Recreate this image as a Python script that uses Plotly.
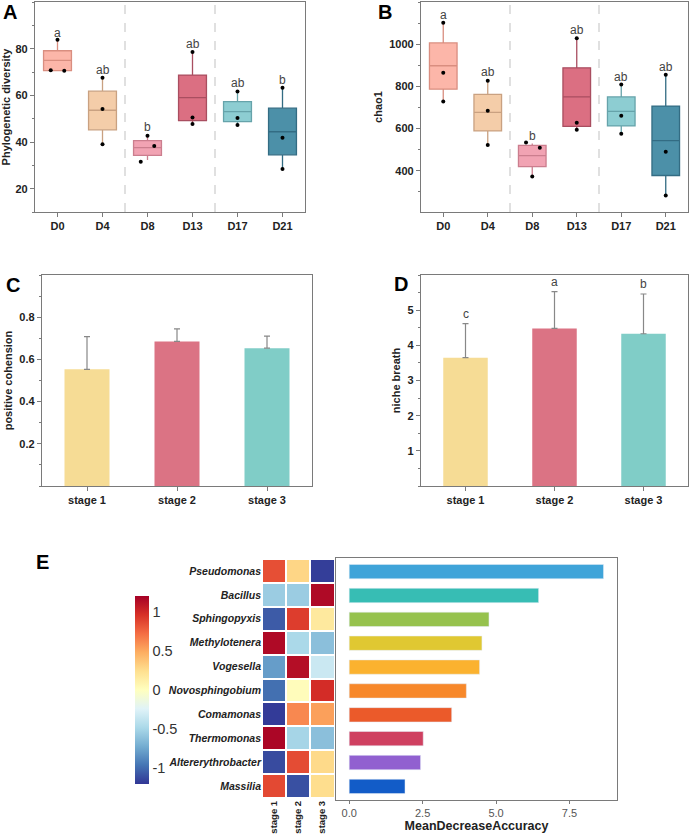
import plotly.graph_objects as go

W, H = 691, 838

# -------------------------------
# Datos A / B : cajas por día
# -------------------------------
dias = ["D0", "D4", "D8", "D13", "D17", "D21"]
colores_caja = ["#FCB6A9", "#F4CDA9", "#F1A3B3", "#DB6F82", "#8DCDD2", "#4C90A8"]
bordes_caja = ["#D98E80", "#C9A181", "#CB7E8E", "#A94E60", "#66A3AA", "#336C83"]

pd_q1 = [70.6, 45.2, 34.3, 49.2, 48.7, 34.5]
pd_med = [75.0, 53.6, 37.6, 59.0, 53.0, 44.4]
pd_q3 = [79.1, 61.8, 40.6, 68.7, 57.3, 54.5]
pd_low = [70.5, 39.0, 32.3, 47.7, 47.3, 28.4]
pd_up = [83.8, 67.5, 42.7, 78.6, 61.6, 63.3]
pd_puntos = [[83.8, 70.8, 70.5], [67.5, 54.1, 39.0], [42.7, 38.3, 31.5],
             [78.6, 50.5, 47.7], [61.6, 50.3, 47.3], [63.3, 41.8, 28.4]]
pd_jitter = [[0, -0.15, 0.15], [0, 0, 0], [0, 0.15, -0.15],
             [0, 0, 0], [0, 0, 0], [0, 0, 0]]
pd_letras = ["a", "ab", "b", "ab", "ab", "b"]
pd_letras_y = [86.8, 70.8, 46.4, 82.1, 65.1, 66.4]

ch_q1 = [787, 589, 420, 611, 613, 378]
ch_med = [898, 677, 472, 750, 682, 543]
ch_q3 = [1006, 762, 521, 888, 750, 707]
ch_low = [728, 523, 373, 595, 576, 283]
ch_up = [1102, 827, 530, 1028, 809, 855]
ch_puntos = [[1102, 865, 728], [827, 685, 523], [534, 510, 373],
             [1028, 628, 595], [809, 661, 576], [855, 491, 283]]
ch_jitter = [[0, 0, 0], [0, 0, 0], [-0.14, 0.17, 0],
             [0, 0, 0], [0, 0, 0], [0, 0, 0]]
ch_letras = ["a", "ab", "b", "ab", "ab", "ab"]
ch_letras_y = [1137, 866, 564, 1066, 846, 893]

# -------------------------------
# Datos C / D : barras por etapa
# -------------------------------
etapas = ["stage 1", "stage 2", "stage 3"]
colores_etapa = ["#F6DC95", "#DB7384", "#80CDC7"]
cohesion = [0.553, 0.685, 0.653]
cohesion_err = [0.708, 0.745, 0.710]
nicho = [3.65, 4.48, 4.33]
nicho_err = [4.62, 5.53, 5.46]
nicho_letras = ["c", "a", "b"]

# -------------------------------
# Datos E : heatmap + importancia
# -------------------------------
generos = ["Pseudomonas", "Bacillus", "Sphingopyxis", "Methylotenera", "Vogesella",
           "Novosphingobium", "Comamonas", "Thermomonas", "Altererythrobacter", "Massilia"]
z_calor = [
    [0.84, 0.29, -1.17],
    [-0.55, -0.55, 1.15],
    [-1.06, 0.91, 0.17],
    [1.15, -0.48, -0.62],
    [-0.79, 1.13, -0.34],
    [-0.98, 0.02, 0.98],
    [-1.18, 0.62, 0.53],
    [1.17, -0.50, -0.62],
    [-1.12, 0.85, 0.27],
    [0.86, -1.10, 0.25],
]
mda = [8.66, 6.45, 4.76, 4.52, 4.44, 3.99, 3.49, 2.52, 2.43, 1.90]
colores_mda = ["#3FA4D9", "#37BDB4", "#96C24E", "#E0C832", "#FBB22F",
               "#F7882A", "#EB5A2A", "#CF4060", "#9160D0", "#125CC8"]

rdylbu_r = ["#313695", "#4575b4", "#74add1", "#abd9e9", "#e0f3f8", "#ffffbf",
            "#fee090", "#fdae61", "#f46d43", "#d73027", "#a50026"]
escala = [[i / (len(rdylbu_r) - 1), c] for i, c in enumerate(rdylbu_r)]


def px_x(a, b):
    return [a / W, b / W]


def px_y(top, bottom):
    return [1 - bottom / H, 1 - top / H]


FUENTE = "Arial, Liberation Sans, sans-serif"
GRIS = "#7a7a7a"

fig = go.Figure()


def eje_base(**kw):
    d = dict(showline=True, linecolor=GRIS, linewidth=1.3, mirror=True,
             ticks="outside", ticklen=4, tickcolor=GRIS, showgrid=False, zeroline=False,
             tickfont=dict(family=FUENTE, size=11, color="#222", weight="bold"))
    d.update(kw)
    return d


def cajas(sufijo, q1, med, q3, low, up, puntos, jitter, letras, letras_y):
    xa, ya = "x" + sufijo, "y" + sufijo
    for i, d in enumerate(dias):
        fig.add_trace(go.Box(x=[i], q1=[q1[i]], median=[med[i]], q3=[q3[i]],
                             lowerfence=[low[i]], upperfence=[up[i]],
                             width=0.62, whiskerwidth=0, fillcolor=colores_caja[i],
                             line=dict(color=bordes_caja[i], width=1.3),
                             boxpoints=False, showlegend=False, xaxis=xa, yaxis=ya))
        fig.add_trace(go.Scatter(x=[i + j for j in jitter[i]], y=puntos[i], mode="markers",
                                 marker=dict(color="black", size=4), showlegend=False,
                                 xaxis=xa, yaxis=ya))
        fig.add_annotation(x=i, y=letras_y[i], text=letras[i], showarrow=False,
                           xref=xa, yref=ya, font=dict(family=FUENTE, size=12, color="#444"))
    for xv in [1.5, 3.5]:
        fig.add_shape(type="line", x0=xv, x1=xv, y0=0, y1=1, xref=xa, yref=ya + " domain",
                      line=dict(color="#cccccc", width=1.2, dash="dash"))


cajas("", pd_q1, pd_med, pd_q3, pd_low, pd_up, pd_puntos, pd_jitter, pd_letras, pd_letras_y)
cajas("2", ch_q1, ch_med, ch_q3, ch_low, ch_up, ch_puntos, ch_jitter, ch_letras, ch_letras_y)

# C
fig.add_trace(go.Bar(x=etapas, y=cohesion, marker=dict(color=colores_etapa, line=dict(width=0)),
                     width=0.5, showlegend=False, xaxis="x3", yaxis="y3",
                     error_y=dict(type="data", symmetric=False,
                                  array=[e - v for e, v in zip(cohesion_err, cohesion)],
                                  arrayminus=[0, 0, 0], color="#888", thickness=1.2, width=3)))
# D
fig.add_trace(go.Bar(x=etapas, y=nicho, marker=dict(color=colores_etapa, line=dict(width=0)),
                     width=0.5, showlegend=False, xaxis="x4", yaxis="y4",
                     error_y=dict(type="data", symmetric=False,
                                  array=[e - v for e, v in zip(nicho_err, nicho)],
                                  arrayminus=[0, 0, 0], color="#888", thickness=1.2, width=3)))
for e, t, v in zip(etapas, nicho_letras, nicho_err):
    fig.add_annotation(x=e, y=v, text=t, showarrow=False, xref="x4", yref="y4", yshift=10,
                       font=dict(family=FUENTE, size=12, color="#444"))

# E heatmap
fig.add_trace(go.Heatmap(z=z_calor, x=etapas, y=generos, colorscale=escala, zmin=-1.2, zmax=1.2,
                         xgap=2, ygap=2, xaxis="x5", yaxis="y5",
                         colorbar=dict(x=125 / W, xanchor="left", thickness=14, len=208 / H,
                                       y=1 - 690 / H, yanchor="middle", outlinewidth=0,
                                       tickvals=[-1, -0.5, 0, 0.5, 1],
                                       ticktext=["-1", "-0.5", "0", "0.5", "1"],
                                       tickfont=dict(family=FUENTE, size=14.5, color="#333"))))
# E importancia
fig.add_trace(go.Bar(x=mda, y=generos, orientation="h", marker=dict(color=colores_mda),
                     width=0.6, showlegend=False, xaxis="x6", yaxis="y6"))

fig.update_layout(
    width=W, height=H, margin=dict(l=0, r=0, t=0, b=0),
    paper_bgcolor="white", plot_bgcolor="white",
    font=dict(family=FUENTE),
    xaxis=eje_base(domain=px_x(35, 305), range=[-0.5, 5.5], tickvals=list(range(6)),
                   ticktext=dias, anchor="y"),
    yaxis=eje_base(domain=px_y(2, 212), range=[10, 100], tickvals=[20, 40, 60, 80],
                   minor=dict(ticks="outside", ticklen=2, dtick=10, tickcolor=GRIS), anchor="x",
                   title=dict(text="Phylogenetic diversity", standoff=4,
                              font=dict(size=11, weight="bold", color="#222"))),
    xaxis2=eje_base(domain=px_x(421, 688), range=[-0.5, 5.5], tickvals=list(range(6)),
                    ticktext=dias, anchor="y2"),
    yaxis2=eje_base(domain=px_y(2, 212), range=[205, 1200], tickvals=[400, 600, 800, 1000],
                    minor=dict(ticks="outside", ticklen=2, dtick=100, tickcolor=GRIS), anchor="x2",
                    title=dict(text="chao1", standoff=4,
                               font=dict(size=11, weight="bold", color="#222"))),
    xaxis3=eje_base(domain=px_x(42, 312), range=[-0.5, 2.5], anchor="y3"),
    yaxis3=eje_base(domain=px_y(275, 486), range=[0, 1], tickvals=[0.2, 0.4, 0.6, 0.8],
                    minor=dict(ticks="outside", ticklen=2, dtick=0.1, tickcolor=GRIS), anchor="x3",
                    title=dict(text="positive cohension", standoff=4,
                               font=dict(size=11, weight="bold", color="#222"))),
    xaxis4=eje_base(domain=px_x(421, 688), range=[-0.5, 2.5], anchor="y4"),
    yaxis4=eje_base(domain=px_y(275, 486), range=[0, 6], tickvals=[1, 2, 3, 4, 5],
                    minor=dict(ticks="outside", ticklen=2, dtick=0.5, tickcolor=GRIS), anchor="x4",
                    title=dict(text="niche breath", standoff=4,
                               font=dict(size=11, weight="bold", color="#222"))),
    xaxis5=dict(domain=px_x(262, 334.5), anchor="y5", showline=False, ticks="", tickangle=-90,
                tickfont=dict(family=FUENTE, size=9.5, color="#222", weight="bold")),
    yaxis5=dict(domain=px_y(559, 798), anchor="x5", autorange="reversed", ticks="",
                tickvals=generos, ticktext=["<i>" + g + "</i>" for g in generos],
                tickfont=dict(family=FUENTE, size=10.5, color="#222", weight="bold")),
    xaxis6=dict(domain=px_x(336, 617), anchor="y6", range=[-0.45, 9.12],
                showline=True, linecolor=GRIS, linewidth=1.3, mirror=True, showgrid=False,
                zeroline=False, ticks="outside", ticklen=3, tickcolor=GRIS,
                tickvals=[0, 2.5, 5, 7.5], ticktext=["0.0", "2.5", "5.0", "7.5"],
                tickfont=dict(family=FUENTE, size=11, color="#555"),
                title=dict(text="MeanDecreaseAccuracy", standoff=2,
                           font=dict(family=FUENTE, size=12.5, color="#222", weight="bold"))),
    yaxis6=dict(domain=px_y(558, 800), anchor="x6", range=[9.57, -0.57],
                showline=True, linecolor=GRIS, linewidth=1.3, mirror=True, showgrid=False,
                showticklabels=False, ticks=""),
)

for letra, cx, cy in [("A", 10, 12.5), ("B", 385, 12.5), ("C", 13, 284.5),
                      ("D", 401, 284), ("E", 42.5, 562)]:
    fig.add_annotation(x=cx / W, y=1 - cy / H, xref="paper", yref="paper", text=letra,
                       showarrow=False, xanchor="center", yanchor="middle",
                       font=dict(family=FUENTE, size=20, color="black", weight="bold"))

# sin margen del body para que la figura ocupe la ventana completa
fig.write_html("out.html", config={"displayModeBar": False},
               post_script="document.body.style.margin='0';")
